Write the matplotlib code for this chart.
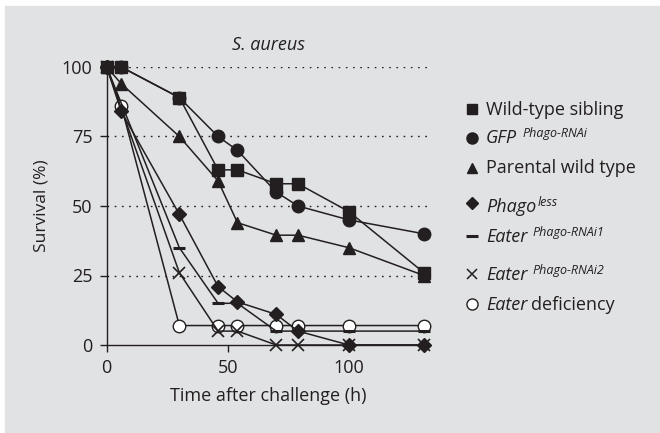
import numpy as np
import matplotlib.pyplot as plt
from matplotlib.patches import Rectangle
from matplotlib.lines import Line2D
from matplotlib.transforms import IdentityTransform

plt.rcParams['font.family'] = ['Open Sans', 'DejaVu Sans']

# survival data (time in hours, survival in %)
hours = [0, 6, 30, 46, 54, 70, 79, 100, 131]
hours_eater = [0, 30, 46, 54, 70, 79, 100, 131]

wild_type_sibling = [100, 100, 89, 63, 63, 58, 58, 48, 26]
gfp_rnai = [100, 100, 89, 75, 70, 55, 50, 45, 40]
parental_wt = [100, 94, 75, 59, 44, 39.5, 39.5, 35, 25]
phagoless = [100, 84, 47, 21, 15.5, 11, 5, 0, 0]
eater_rnai1 = [100, 35, 15, 15, 5, 5, 5, 5]
eater_rnai2 = [100, 26, 5, 5, 0, 0, 0, 0]
eater_def = [100, 86, 7, 7, 7, 7, 7, 7, 7]

x_ticks = [0, 50, 100]
y_ticks = [0, 25, 50, 75, 100]

INK = '#231f20'
BG = '#e1e2e4'
W, H = 660, 433
FS = 13

fig = plt.figure(figsize=(6.6, 4.33), dpi=100)
fig.patch.set_facecolor('white')
fig.patches.append(Rectangle((5 / W, 0), 1 - 5 / W, 1 - 6 / H,
                             transform=fig.transFigure, color=BG, zorder=-10))

ax = fig.add_axes([106.7 / W, 1 - 345 / H, (430 - 106.7) / W, (345 - 67) / H])
ax.set_facecolor('none')
ax.set_xlim(0, 133.5)
ax.set_ylim(0, 100)

for s in ['top', 'right']:
    ax.spines[s].set_visible(False)
for s in ['left', 'bottom']:
    ax.spines[s].set_color(INK)
    ax.spines[s].set_linewidth(1.0)

ax.set_xticks(x_ticks)
ax.set_yticks(y_ticks)
ax.tick_params(direction='out', length=5.3, width=1.0, color=INK,
               labelsize=FS, labelcolor=INK, pad=5)

for yv in y_ticks[1:]:
    ax.axhline(yv, color=INK, lw=1.0, linestyle=(0, (1.2, 4)), zorder=1)

common = dict(color=INK, lw=1.1, clip_on=False, zorder=3)
ax.plot(hours, eater_def, marker='o', ms=9, mfc='white', mec=INK, mew=1.0, **common)
ax.plot(hours_eater, eater_rnai1, marker='_', ms=9, mew=2.2, **common)
ax.plot(hours_eater, eater_rnai2, marker='x', ms=8, mew=1.2, **common)
ax.plot(hours, phagoless, marker='D', ms=7, mfc=INK, mec=INK, **common)
ax.plot(hours, parental_wt, marker='^', ms=8, mfc=INK, mec=INK, **common)
ax.plot(hours, gfp_rnai, marker='o', ms=9, mfc=INK, mec=INK, **common)
ax.plot(hours, wild_type_sibling, marker='s', ms=8.5, mfc=INK, mec=INK, **common)

ax.set_title('S. aureus', style='italic', fontsize=FS, color=INK, pad=12)
ax.set_xlabel('Time after challenge (h)', fontsize=FS, color=INK, labelpad=7)
ax.set_ylabel('Survival (%)', fontsize=12.5, color=INK, labelpad=9)

# hand-built legend so the superscripts can be set like the original
renderer = fig.canvas.get_renderer()
ident = IdentityTransform()


def put_pieces(x, y, pieces):
    # pieces: (text, italic, size, raise_px, gap_px)
    for txt, ital, size, dy, gap in pieces:
        x += gap
        t = fig.text(x, H - y + dy, txt, fontsize=size, color=INK,
                     style='italic' if ital else 'normal',
                     transform=ident, va='baseline', ha='left')
        x = t.get_window_extent(renderer).x1


SUP = 9
legend_rows = [
    (109, 115, dict(marker='s', ms=7, mfc=INK, mec=INK),
     [('Wild-type sibling', False, FS, 0, 0)]),
    (138, 143, dict(marker='o', ms=8, mfc=INK, mec=INK),
     [('GFP', True, FS, 0, 0), ('Phago-RNAi', True, SUP, 6, 5)]),
    (168, 173, dict(marker='^', ms=7, mfc=INK, mec=INK),
     [('Parental wild type', False, FS, 0, 0)]),
    (203, 212, dict(marker='D', ms=6, mfc=INK, mec=INK),
     [('Phago', True, FS, 0, 0), ('less', True, SUP, 6, 1)]),
    (236, 242, dict(marker='_', ms=8, mew=2.2, mec=INK),
     [('Eater', True, FS, 0, 0), ('Phago-RNAi1', True, SUP, 6, 5)]),
    (274, 280, dict(marker='x', ms=7, mew=1.1, mec=INK),
     [('Eater', True, FS, 0, 0), ('Phago-RNAi2', True, SUP, 6, 5)]),
    (304, 310, dict(marker='o', ms=8, mfc='white', mec=INK, mew=1.0),
     [('Eater', True, FS, 0, 0), ('deficiency', False, FS, 0, 4)]),
]

for my, by, mk, pieces in legend_rows:
    fig.add_artist(Line2D([472], [H - my], transform=ident, linestyle='none', **mk))
    put_pieces(486, by, pieces)

fig.savefig('out.png', dpi=100, facecolor=fig.get_facecolor())
